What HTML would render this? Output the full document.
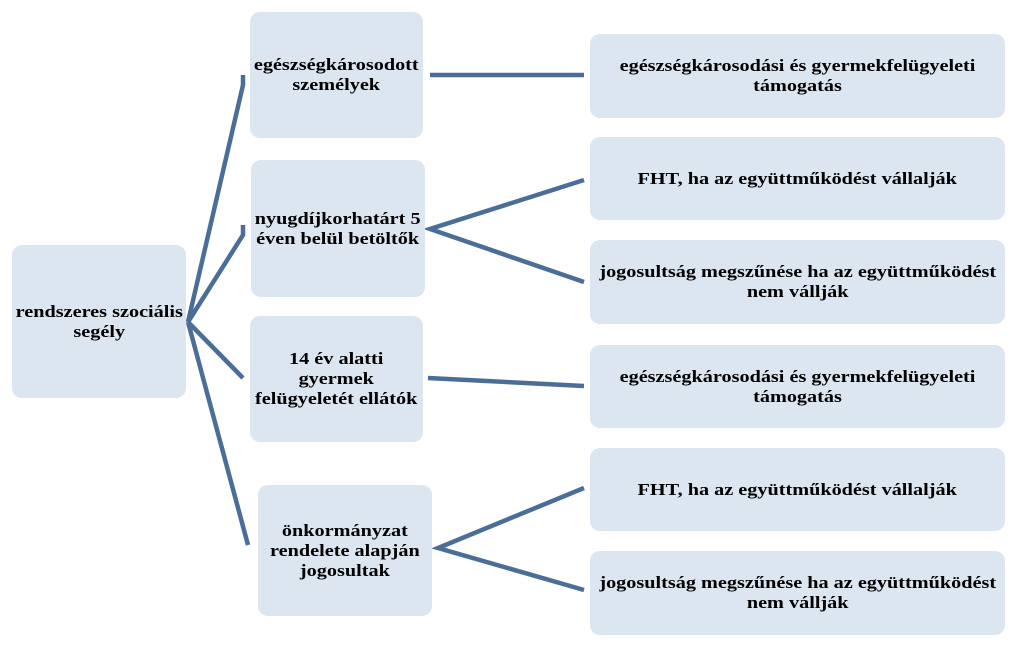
<!DOCTYPE html>
<html><head><meta charset="utf-8"><style>
body{margin:0;width:1024px;height:652px;background:#fff;position:relative;overflow:hidden;font-family:"Liberation Serif",serif;font-weight:bold;font-size:17px;color:#000}
.b{position:absolute;background:#dce6f1;border-radius:10px;display:flex;align-items:center;justify-content:center;text-align:center;line-height:20px}
.b span{display:inline-block;transform:scaleX(1.19);white-space:nowrap}
svg{position:absolute;left:0;top:0}
</style></head><body>
<svg width="1024" height="652"><g stroke="#4a6e98" stroke-width="4.5" fill="none" stroke-linecap="butt">
<polyline points="188,322 243,85 243,75"/>
<polyline points="188,322 243,235 243,225"/>
<polyline points="188,322 243,378"/>
<polyline points="188,322 248,545"/>
<line x1="430" y1="75" x2="584" y2="75"/>
<polyline points="584,180 430,229 584,282"/>
<line x1="428" y1="378" x2="584" y2="386"/>
<polyline points="584,488 438,548 584,590"/>
</g></svg>
<div class="b" style="left:12px;top:245px;width:174px;height:153px"><span>rendszeres szociális<br>segély</span></div>
<div class="b" style="left:250px;top:12px;width:173px;height:126px"><span>egészségkárosodott<br>személyek</span></div>
<div class="b" style="left:251px;top:160px;width:174px;height:137px"><span>nyugdíjkorhatárt 5<br>éven belül betöltők</span></div>
<div class="b" style="left:250px;top:316px;width:173px;height:126px"><span>14 év alatti<br>gyermek<br>felügyeletét ellátók</span></div>
<div class="b" style="left:258px;top:485px;width:174px;height:131px"><span>önkormányzat<br>rendelete alapján<br>jogosultak</span></div>
<div class="b" style="left:590px;top:34px;width:415px;height:84px"><span>egészségkárosodási és gyermekfelügyeleti<br>támogatás</span></div>
<div class="b" style="left:590px;top:137px;width:415px;height:83px"><span>FHT, ha az együttműködést vállalják</span></div>
<div class="b" style="left:590px;top:240px;width:415px;height:84px"><span>jogosultság megszűnése ha az együttműködést<br>nem vállják</span></div>
<div class="b" style="left:590px;top:345px;width:415px;height:83px"><span>egészségkárosodási és gyermekfelügyeleti<br>támogatás</span></div>
<div class="b" style="left:590px;top:448px;width:415px;height:83px"><span>FHT, ha az együttműködést vállalják</span></div>
<div class="b" style="left:590px;top:551px;width:415px;height:84px"><span>jogosultság megszűnése ha az együttműködést<br>nem vállják</span></div>
</body></html>
